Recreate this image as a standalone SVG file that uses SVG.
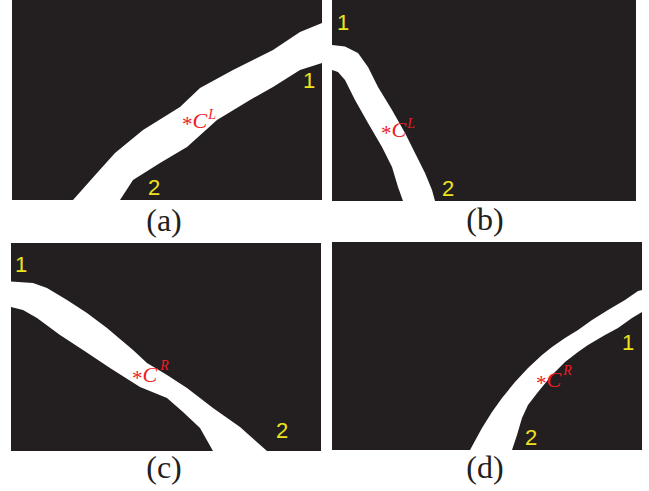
<svg xmlns="http://www.w3.org/2000/svg" width="649" height="491" viewBox="0 0 649 491">
<style>
.bg{fill:#231f20}
.band{fill:#ffffff}
.num{font-size:22px;fill:#eee21f;text-anchor:middle}
.lab{font-size:21px;fill:#ed1c24}
.it{font-style:italic;font-size:22px}
.sup{font-style:italic;font-size:14px}
.cap{font-size:32px;fill:#231f20;text-anchor:middle}
</style>
<rect width="649" height="491" fill="#ffffff"/>
<g id="panel-a">
<rect class="bg" x="12" y="0" width="310" height="200"/>
<path class="band" d="M322,23 L300,32 L273,50 L233,70 L200,88 L180,107 L143,130 L115,153 L97,173 L73,200 L120,200 L133,180 L160,163 L187,147 L217,120 L250,100 L273,87 L300,70 L322,63 Z"/>
<text class="num" font-family="Liberation Sans, Arial, sans-serif" x="309" y="88">1</text>
<text class="num" font-family="Liberation Sans, Arial, sans-serif" x="154" y="195">2</text>
<text class="lab" font-family="Liberation Serif, Times New Roman, serif" x="182" y="128"><tspan dy="3">*</tspan><tspan class="it" dy="-3">C</tspan><tspan class="sup" dx="1" dy="-9">L</tspan></text>
<text class="cap" font-family="Liberation Serif, Times New Roman, serif" x="164" y="231">(a)</text>
</g>
<g id="panel-b">
<rect class="bg" x="332" y="0" width="304" height="201"/>
<path class="band" d="M332,45 L345,46.5 L358,53 L368,67 L378,87 L392,110 L405,133 L415,153 L425,173 L432,190 L435,201 L403,201 L398,187 L392,167 L382,147 L368,123 L355,100 L345,80 L338,72 L332,70 Z"/>
<text class="num" font-family="Liberation Sans, Arial, sans-serif" x="343" y="30">1</text>
<text class="num" font-family="Liberation Sans, Arial, sans-serif" x="448" y="196">2</text>
<text class="lab" font-family="Liberation Serif, Times New Roman, serif" x="381" y="137"><tspan dy="3">*</tspan><tspan class="it" dy="-3">C</tspan><tspan class="sup" dx="1" dy="-9">L</tspan></text>
<text class="cap" font-family="Liberation Serif, Times New Roman, serif" x="485" y="230">(b)</text>
</g>
<g id="panel-c">
<rect class="bg" x="11" y="243" width="310" height="208"/>
<path class="band" d="M11,281.5 L33,283 L47,288 L67,300 L87,313 L107,328 L133,350 L147,363 L167,375 L187,388 L213,408 L240,427 L267,451 L213,451 L200,428 L183,412 L167,398 L140,387 L110,368 L83,350 L60,335 L37,318 L23,310 L11,307 Z"/>
<text class="num" font-family="Liberation Sans, Arial, sans-serif" x="21" y="272">1</text>
<text class="num" font-family="Liberation Sans, Arial, sans-serif" x="282" y="438">2</text>
<text class="lab" font-family="Liberation Serif, Times New Roman, serif" x="132" y="382"><tspan dy="3">*</tspan><tspan class="it" dy="-3">C</tspan><tspan class="sup" dx="3" dy="-12">R</tspan></text>
<text class="cap" font-family="Liberation Serif, Times New Roman, serif" x="164" y="478">(c)</text>
</g>
<g id="panel-d">
<rect class="bg" x="332" y="242" width="310" height="208"/>
<path class="band" d="M642,290 L638,291 L625,300 L608,310 L592,320 L578,330 L565,338 L552,347 L542,355 L528,368 L515,382 L502,398 L492,412 L482,428 L470,450 L512,450 L517,435 L522,418 L528,405 L538,392 L552,375 L565,362 L578,352 L588,345 L605,335 L618,328 L632,318 L642,312 Z"/>
<text class="num" font-family="Liberation Sans, Arial, sans-serif" x="628" y="350">1</text>
<text class="num" font-family="Liberation Sans, Arial, sans-serif" x="531" y="445">2</text>
<text class="lab" font-family="Liberation Serif, Times New Roman, serif" x="536" y="387"><tspan dy="3">*</tspan><tspan class="it" dy="-3">C</tspan><tspan class="sup" dx="2" dy="-12">R</tspan></text>
<text class="cap" font-family="Liberation Serif, Times New Roman, serif" x="485" y="478">(d)</text>
</g>
</svg>
